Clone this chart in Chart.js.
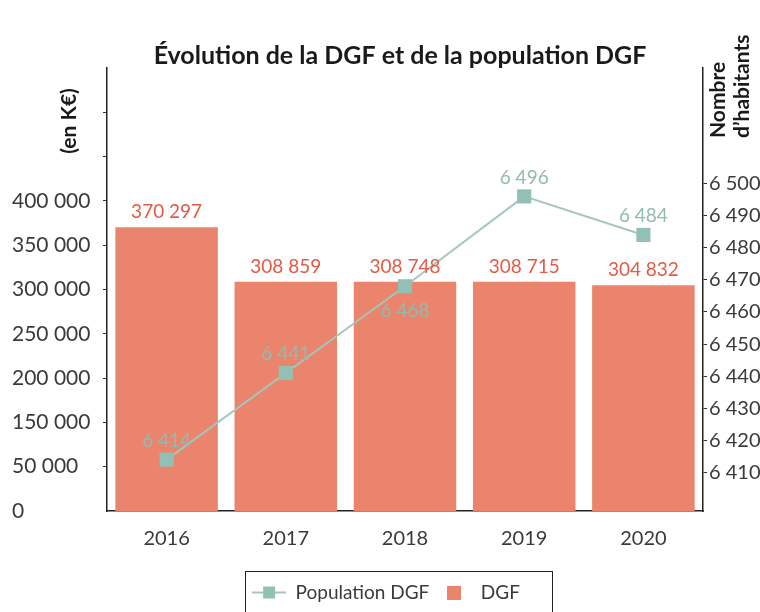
<!DOCTYPE html>
<html><head><meta charset="utf-8">
<script src="https://cdn.jsdelivr.net/npm/chart.js@4/dist/chart.umd.min.js"></script>
<style>html,body{margin:0;padding:0;background:#fff}#wrap{width:760px;height:612px;position:relative}</style>
</head><body><div id="wrap"><canvas id="c"></canvas></div>
<script>
const categories = ['2016', '2017', '2018', '2019', '2020'];
const dgfValues = [370297, 308859, 308748, 308715, 304832];
const populationValues = [6414, 6441, 6468, 6496, 6484];
// tick labels as printed on the reference's left axis (one per tick, bottom to top)
const leftTickLabels = ['0', '50 000', '150 000', '200 000', '250 000', '300 000', '350 000', '400 000'];
const rightTickValues = [6410, 6420, 6430, 6440, 6450, 6460, 6470, 6480, 6490, 6500];
const populationLabelSide = ['above', 'above', 'below', 'above', 'above'];
const chartTitle = 'Évolution de la DGF et de la population DGF';
const leftAxisTitle = '(en K€)';
const rightAxisTitle = ['Nombre', 'd’habitants'];
const seriesNames = ['Population DGF', 'DGF'];

const BAR = '#EA846C';
const BAR_LABEL = '#E45A45';
const LINE = '#A3C7BD';
const MARK = '#93C0B4';
const LINE_LABEL = '#92BBB0';
const TXT = '#3a3a3a';
const FONT = 'Lato, "Open Sans", sans-serif';

function fmt(v) { return String(v).replace(/\B(?=(\d{3})+(?!\d))/g, ' '); }

function makeLineIcon() {
  const c = document.createElement('canvas'); c.width = 34; c.height = 14;
  const g = c.getContext('2d');
  g.strokeStyle = LINE; g.lineWidth = 2;
  g.beginPath(); g.moveTo(0, 7); g.lineTo(34, 7); g.stroke();
  g.fillStyle = MARK; g.fillRect(11, 1, 12, 12);
  return c;
}
function makeBarIcon() {
  const c = document.createElement('canvas'); c.width = 14; c.height = 14;
  const g = c.getContext('2d'); g.fillStyle = BAR; g.fillRect(0, 0, 14, 14);
  return c;
}
const legendIcons = [makeLineIcon(), makeBarIcon()];

const decor = {
  id: 'decor',
  afterDatasetsDraw(chart) {
    const ctx = chart.ctx;
    ctx.save();
    ctx.textAlign = 'center';
    ctx.textBaseline = 'middle';
    ctx.font = '19px ' + FONT;
    const barMeta = chart.getDatasetMeta(1);
    ctx.fillStyle = BAR_LABEL;
    barMeta.data.forEach((el, i) => ctx.fillText(fmt(dgfValues[i]), el.x, el.y - 15));
    const lineMeta = chart.getDatasetMeta(0);
    ctx.fillStyle = LINE_LABEL;
    lineMeta.data.forEach((el, i) => {
      const dy = populationLabelSide[i] === 'below' ? 25 : -19;
      ctx.fillText(fmt(populationValues[i]), el.x, el.y + dy);
    });
    ctx.restore();
  },
  afterDraw(chart) {
    const ctx = chart.ctx;
    const ca = chart.chartArea;
    ctx.save();
    ctx.fillStyle = '#1a1a1a';
    ctx.textAlign = 'center';
    ctx.textBaseline = 'middle';
    ctx.font = '700 25px ' + FONT;
    ctx.fillText(chartTitle, (ca.left + ca.right) / 2 - 5, 56);
    // left axis title
    ctx.font = '700 21px ' + FONT;
    ctx.save();
    ctx.translate(69, 121);
    ctx.rotate(-Math.PI / 2);
    ctx.fillText(leftAxisTitle, 0, 0);
    ctx.restore();
    // right axis title
    ctx.save();
    ctx.translate(0, 138);
    ctx.rotate(-Math.PI / 2);
    ctx.textAlign = 'left';
    ctx.fillText(rightAxisTitle[0], 0, 718);
    ctx.fillText(rightAxisTitle[1], 0, 742);
    ctx.restore();
    // legend frame
    const lg = chart.legend;
    if (lg && lg.legendHitBoxes && lg.legendHitBoxes.length) {
      const hb = lg.legendHitBoxes;
      const l = hb[0].left - 7;
      const last = hb[hb.length - 1];
      const r = last.left + last.width + 32;
      ctx.strokeStyle = '#222';
      ctx.lineWidth = 1;
      ctx.strokeRect(Math.round(l) + 0.5, Math.round(hb[0].top) - 12 + 0.5, Math.round(r - l), 70);
    }
    ctx.restore();
  }
};

new Chart(document.getElementById('c'), {
  data: {
    labels: categories,
    datasets: [
      {
        type: 'line', label: seriesNames[0], data: populationValues, yAxisID: 'y1',
        borderColor: LINE, borderWidth: 2, pointStyle: 'rect', pointRadius: 10,
        pointBackgroundColor: MARK, pointBorderColor: MARK, pointBorderWidth: 0, tension: 0
      },
      {
        type: 'bar', label: seriesNames[1], data: dgfValues, yAxisID: 'y',
        backgroundColor: BAR, borderWidth: 0, categoryPercentage: 1, barPercentage: 0.86
      }
    ]
  },
  options: {
    responsive: true, maintainAspectRatio: false, animation: false, devicePixelRatio: 1,
    layout: { padding: { left: 12, right: 0, top: 68, bottom: 0 } },
    plugins: {
      tooltip: { enabled: false },
      title: { display: false },
      legend: {
        display: true, position: 'bottom',
        labels: {
          usePointStyle: true, pointStyleWidth: 34, padding: 8,
          color: TXT, font: { family: FONT, size: 19 },
          generateLabels: (chart) => chart.data.datasets.map((ds, i) => ({
            text: ds.label, pointStyle: legendIcons[i], fillStyle: i ? BAR : MARK,
            strokeStyle: 'rgba(0,0,0,0)', lineWidth: 0, hidden: false, datasetIndex: i, fontColor: TXT
          }))
        }
      }
    },
    scales: {
      x: {
        grid: { display: false },
        border: { display: true, color: '#222', width: 1.5 },
        ticks: { color: TXT, font: { family: FONT, size: 20 }, padding: 8 },
        afterFit: (s) => { s.height = 64; }
      },
      y: {
        position: 'left', min: 50000, max: 550000,
        grid: { display: true, drawOnChartArea: false, drawTicks: true, tickLength: 4,
          tickColor: (c) => (c.index === 0 || c.index > 9) ? 'rgba(0,0,0,0)' : '#333' },
        border: { display: true, color: '#222', width: 1.5 },
        ticks: { stepSize: 50000, crossAlign: 'far', color: TXT, font: { family: FONT, size: 21 },
          callback: (v, i) => i < leftTickLabels.length ? leftTickLabels[i] : '' },
        afterFit: (s) => { s.width = 95; }
      },
      y1: {
        position: 'right', min: 6398, max: 6536,
        grid: { display: true, drawOnChartArea: false, drawTicks: true, tickLength: 4,
          tickColor: (c) => (c.tick && rightTickValues.includes(c.tick.value)) ? '#333' : 'rgba(0,0,0,0)' },
        border: { display: true, color: '#222', width: 1.5 },
        ticks: { stepSize: 10, padding: 2, color: TXT, font: { family: FONT, size: 20 },
          callback: (v) => rightTickValues.includes(v) ? fmt(v) : '' },
        afterFit: (s) => { s.width = 57; }
      }
    }
  },
  plugins: [decor]
});
</script>
</body></html>
